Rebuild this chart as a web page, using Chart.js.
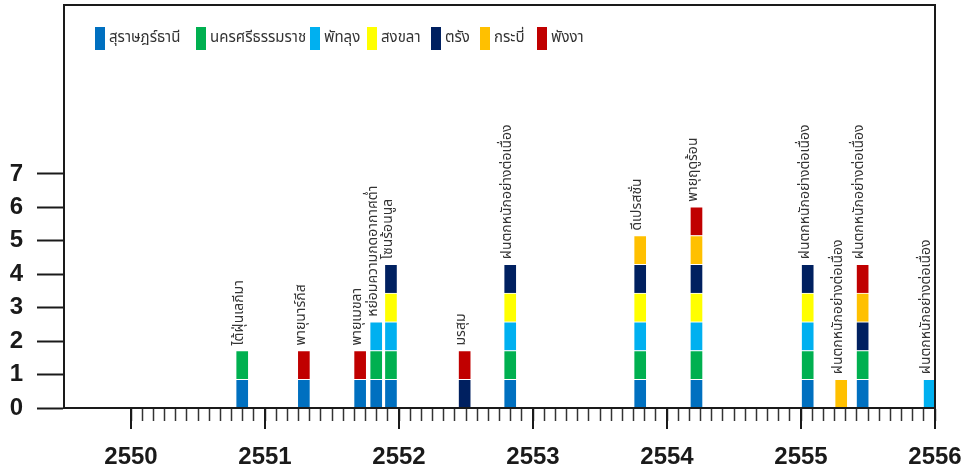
<!DOCTYPE html>
<html>
<head>
<meta charset="utf-8">
<script src="https://cdn.jsdelivr.net/npm/chart.js@4.4.1/dist/chart.umd.min.js"></script>
<style>
  html, body { margin: 0; padding: 0; background: #fff; }
  canvas { display: block; }
</style>
</head>
<body>
<canvas id="c" width="969" height="475"></canvas>
<script>
// ---- data ----
const eventYears = [2550.83, 2551.29, 2551.71, 2551.83, 2551.94, 2552.49, 2552.83, 2553.80, 2554.22, 2555.05, 2555.30, 2555.46, 2555.96];
const eventNames = [
  'ไต้ฝุ่นเลกีมา', 'พายุนาร์กีส', 'พายุเมขลา', 'หย่อมความกดอากาศต่ำ', 'โซนร้อนนูล',
  'มรสุม', 'ฝนตกหนักอย่างต่อเนื่อง', 'ดีเปรสชั่น', 'พายุฤดูร้อน',
  'ฝนตกหนักอย่างต่อเนื่อง', 'ฝนตกหนักอย่างต่อเนื่อง', 'ฝนตกหนักอย่างต่อเนื่อง', 'ฝนตกหนักอย่างต่อเนื่อง'
];
const provinces = ['สุราษฎร์ธานี', 'นครศรีธรรมราช', 'พัทลุง', 'สงขลา', 'ตรัง', 'กระบี่', 'พังงา'];
const suratThani     = [0.86, 0.86, 0.86, 0.86, 0.86, null, 0.86, 0.86, 0.86, 0.86, null, 0.86, null];
const nakhonSi       = [0.86, null, null, 0.86, 0.86, null, 0.86, 0.86, 0.86, 0.86, null, 0.86, null];
const phatthalung    = [null, null, null, 0.86, 0.86, null, 0.86, 0.86, 0.86, 0.86, null, null, 0.86];
const songkhla       = [null, null, null, null, 0.86, null, 0.86, 0.86, 0.86, 0.86, null, null, null];
const trang          = [null, null, null, null, 0.86, 0.86, 0.86, 0.86, 0.86, 0.86, null, 0.86, null];
const krabi          = [null, null, null, null, null, null, null, 0.86, 0.86, null, 0.86, 0.86, null];
const phangnga       = [null, 0.86, 0.86, null, null, 0.86, null, null, 0.86, null, null, 0.86, null];
const yearTicks = [2550, 2551, 2552, 2553, 2554, 2555, 2556];
const yTickLabels = [0, 1, 2, 3, 4, 5, 6, 7];

const seriesValues = [suratThani, nakhonSi, phatthalung, songkhla, trang, krabi, phangnga];
const colors = ['#0070C0', '#00B050', '#00B0F0', '#FFFF00', '#002060', '#FFC000', '#C00000'];

const THAI = "'Noto Sans Thai', 'Noto Sans', 'DejaVu Sans', sans-serif";
const AXIS = "'Liberation Sans', Arial, sans-serif";
const LINE = '#1a1a1a';

const datasets = provinces.map((p, k) => ({
  label: p,
  data: eventYears.map((x, i) => ({ x: x, y: seriesValues[k][i] })),
  backgroundColor: colors[k],
  borderColor: '#ffffff',
  borderWidth: 1,
  barThickness: 13
}));

// totals for label placement
const totals = eventYears.map((x, i) => seriesValues.reduce((s, arr) => s + (arr[i] || 0), 0));

const overlay = {
  id: 'overlay',
  afterDraw(chart) {
    const ctx = chart.ctx;
    const a = chart.chartArea;
    const xs = chart.scales.x, ys = chart.scales.y;
    ctx.save();
    // frame
    ctx.strokeStyle = LINE;
    ctx.lineWidth = 2;
    ctx.strokeRect(a.left, a.top, a.right - a.left, a.bottom - a.top);
    // major x ticks
    ctx.lineWidth = 2;
    yearTicks.forEach(v => {
      const px = Math.round(xs.getPixelForValue(v));
      ctx.beginPath();
      ctx.moveTo(px, a.bottom);
      ctx.lineTo(px, a.bottom + 21);
      ctx.stroke();
    });
    // event labels (rotated)
    ctx.fillStyle = '#333';
    ctx.font = '14px ' + THAI;
    ctx.textAlign = 'left';
    ctx.textBaseline = 'middle';
    eventYears.forEach((x, i) => {
      const px = xs.getPixelForValue(x);
      const py = ys.getPixelForValue(totals[i]);
      ctx.save();
      ctx.translate(px - 2, py - 5);
      ctx.rotate(-Math.PI / 2);
      ctx.fillText(eventNames[i], 0, 0);
      ctx.restore();
    });
    // legend
    const legendX = [95, 196, 310, 367, 431, 480, 537];
    ctx.font = '15px ' + THAI;
    ctx.textBaseline = 'middle';
    provinces.forEach((p, k) => {
      ctx.fillStyle = colors[k];
      ctx.fillRect(legendX[k], 27, 10, 23);
      ctx.fillStyle = '#333';
      ctx.fillText(p, legendX[k] + 14, 39);
    });
    ctx.restore();
  }
};

new Chart(document.getElementById('c'), {
  type: 'bar',
  data: { datasets },
  plugins: [overlay],
  options: {
    responsive: false,
    animation: false,
    layout: { padding: { top: 5, right: 34, left: 0, bottom: 0 } },
    plugins: { legend: { display: false }, tooltip: { enabled: false } },
    scales: {
      x: {
        type: 'linear',
        stacked: true,
        offset: false,
        min: 2549.5,
        max: 2556,
        afterFit(s) { s.height = 67; s.paddingLeft = 0; s.paddingRight = 0; },
        border: { display: true, color: LINE, width: 2 },
        grid: {
          offset: false,
          drawOnChartArea: false,
          drawTicks: true,
          tickLength: 13,
          tickWidth: 1.5,
          tickColor: c => (c.tick && c.tick.value > 2549.99) ? '#333' : 'rgba(0,0,0,0)'
        },
        ticks: {
          stepSize: 1 / 12,
          autoSkip: false,
          maxRotation: 0,
          padding: 22,
          color: '#1a1a1a',
          font: { family: AXIS, size: 24, weight: 'bold' },
          callback: v => {
            const r = Math.round(v);
            return (Math.abs(v - r) < 1e-6 && yearTicks.includes(r)) ? String(r) : '';
          }
        }
      },
      y: {
        stacked: true,
        min: 0,
        max: 12.055,
        afterFit(s) { s.width = 64; s.paddingTop = 0; s.paddingBottom = 0; },
        border: { display: true, color: LINE, width: 2 },
        grid: {
          drawOnChartArea: false,
          drawTicks: true,
          tickLength: 27,
          tickWidth: 2,
          tickColor: c => (c.tick && yTickLabels.includes(c.tick.value)) ? LINE : 'rgba(0,0,0,0)'
        },
        ticks: {
          stepSize: 1,
          autoSkip: false,
          padding: 14,
          color: '#1a1a1a',
          font: { family: AXIS, size: 24, weight: 'bold' },
          callback: v => yTickLabels.includes(v) ? String(v) : ''
        }
      }
    }
  }
});
</script>
</body>
</html>
